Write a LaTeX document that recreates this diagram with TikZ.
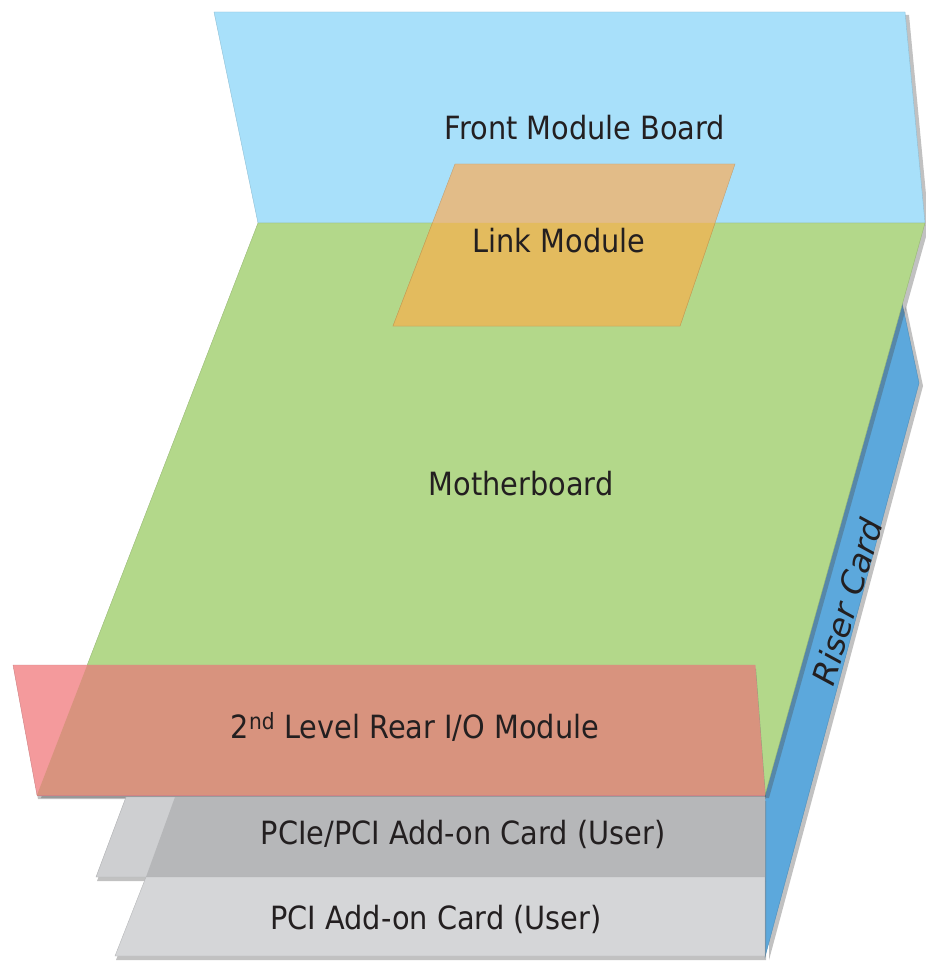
\documentclass[tikz,border=0pt]{standalone}
\usepackage{fontspec}
\setmainfont{DejaVu Sans Condensed}
\usetikzlibrary{shadows}

\definecolor{frontblue}{HTML}{A8E0FA}
\definecolor{mbgreen}{HTML}{B3D88A}
\definecolor{linktan}{HTML}{E2BC88}
\definecolor{linkorange}{HTML}{E3BB5E}
\definecolor{rearpink}{HTML}{F49A9C}
\definecolor{rearsalmon}{HTML}{D8937E}
\definecolor{riserblue}{HTML}{5CA8DC}
\definecolor{cardlight}{HTML}{CECFD1}
\definecolor{carddark}{HTML}{B6B7B9}
\definecolor{cardpale}{HTML}{D5D6D8}
\definecolor{labelgray}{HTML}{231F20}

\tikzset{
    board/.style={fill=#1, draw=#1!85!black, line width=0.4pt},
    boardshadow/.style={drop shadow={shadow xshift=4pt, shadow yshift=-3pt, opacity=0.35, fill=black!70}},
    lowshadow/.style={drop shadow={shadow xshift=1pt, shadow yshift=-4pt, opacity=0.35, fill=black!70}},
    label/.style={text=labelgray, font=\fontsize{32}{36}\selectfont, inner sep=0pt}
}

\begin{document}
\begin{tikzpicture}[x=1pt,y=-1pt]
    \useasboundingbox (0,0) rectangle (925,965);

    % front module board
    \draw[board=frontblue, boardshadow] (214,12) -- (905,12) -- (925,223) -- (258,223) -- cycle;
    \node[label] (front) at (585,128) {Front Module Board};

    % riser card
    \draw[board=riserblue, boardshadow] (902,303) -- (919,383) -- (765,957) -- (765,795) -- cycle;
    \node[label, rotate=73, xscale=1.15, font=\fontsize{32}{36}\selectfont\itshape] (riser) at (847,602) {Riser Card};

    % motherboard
    \draw[board=mbgreen, boardshadow] (258,223) -- (925,223) -- (765,795) -- (37,795) -- cycle;
    \node[label] (mb) at (521,484) {Motherboard};

    % link module, lighter where it lies over the front board
    \draw[board=linktan] (455,164) -- (735,164) -- (680,326) -- (393,326) -- cycle;
    \begin{scope}
        \clip (258,223) -- (925,223) -- (765,795) -- (37,795) -- cycle;
        \draw[board=linkorange] (455,164) -- (735,164) -- (680,326) -- (393,326) -- cycle;
    \end{scope}
    \node[label] (link) at (559,241) {Link Module};

    % 2nd level rear I/O module
    \draw[board=rearpink, lowshadow] (13,665) -- (755,665) -- (765,795) -- (37,795) -- cycle;
    \begin{scope}
        \clip (258,223) -- (925,223) -- (765,795) -- (37,795) -- cycle;
        \fill[rearsalmon] (13,665) -- (755,665) -- (765,795) -- (37,795) -- cycle;
    \end{scope}
    \draw[rearpink!85!black, line width=0.6pt] (37,795) -- (765,795);
    \node[label] (rear) at (415,727) {2\textsuperscript{nd} Level Rear I/O Module};

    % add-on cards
    \draw[board=cardlight, lowshadow] (126,797) -- (765,797) -- (765,877) -- (96,877) -- cycle;
    \fill[carddark] (175,797) -- (765,797) -- (765,877) -- (146,877) -- cycle;
    \node[label] (pcie) at (463,834) {PCIe/PCI Add-on Card (User)};

    \draw[board=cardpale, lowshadow] (146,877) -- (765,877) -- (765,956) -- (115,956) -- cycle;
    \node[label] (pci) at (436,919) {PCI Add-on Card (User)};
\end{tikzpicture}
\end{document}
